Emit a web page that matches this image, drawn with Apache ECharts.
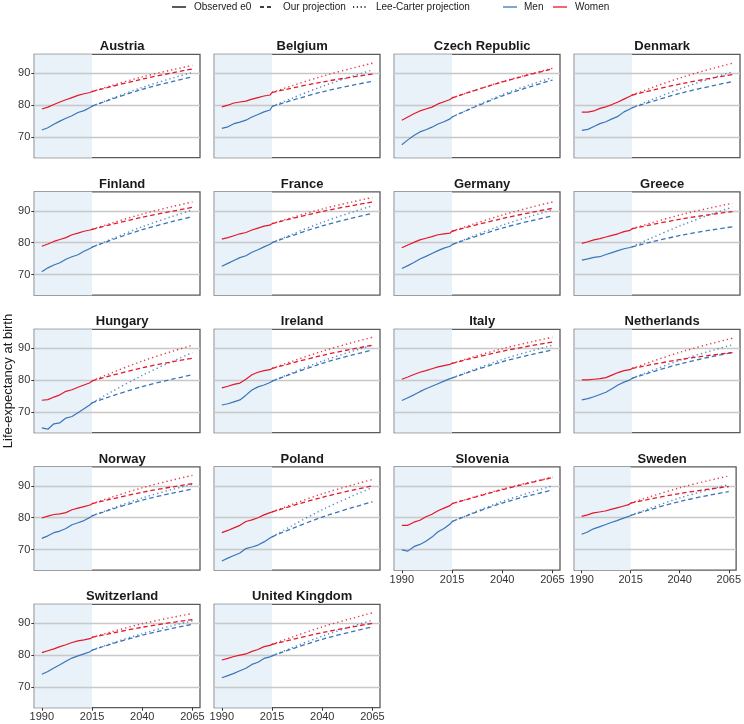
<!DOCTYPE html>
<html>
<head>
<meta charset="utf-8">
<script src="https://cdn.jsdelivr.net/npm/echarts@6/dist/echarts.min.js"></script>
<style>
html,body{margin:0;padding:0;background:#fff;}
#chart{width:744px;height:724px;}
</style>
</head>
<body>
<div id="chart"></div>
<script>
// ---------- DATA ----------
const countries = ["Austria","Belgium","Czech Republic","Denmark","Finland","France","Germany","Greece",
  "Hungary","Ireland","Italy","Netherlands","Norway","Poland","Slovenia","Sweden","Switzerland","United Kingdom"];
const obsYears = [1990,1993,1996,1999,2002,2005,2008,2011,2014,2015];
const projYears = [2015,2040,2065];
const xTicks = [1990,2015,2040,2065];
const yTicks = [70,80,90];

const menObs = [
  [72.2,72.9,74.0,75.0,75.9,76.7,77.7,78.3,79.3,79.7],
  [72.7,73.2,74.2,74.7,75.3,76.3,77.1,77.9,78.5,79.6],
  [67.6,69.1,70.5,71.6,72.3,73.1,74.1,74.8,75.7,76.3],
  [72.1,72.4,73.3,74.2,74.8,75.7,76.5,77.9,78.8,79.2],
  [70.9,72.1,73.0,73.7,74.8,75.6,76.2,77.3,78.2,78.6],
  [72.6,73.5,74.4,75.3,75.9,77.0,77.8,78.7,79.5,80.0],
  [71.9,72.8,73.8,74.9,75.7,76.6,77.5,78.3,78.9,79.4],
  [74.5,74.9,75.4,75.6,76.3,76.9,77.5,78.1,78.5,78.7],
  [65.0,64.6,66.3,66.6,68.1,68.6,69.8,71.0,72.3,72.9],
  [72.2,72.6,73.2,73.8,75.3,76.9,77.9,78.5,79.3,79.7],
  [73.6,74.5,75.4,76.4,77.3,78.1,78.9,79.7,80.5,80.7],
  [73.8,74.2,74.8,75.5,76.2,77.3,78.5,79.4,80.1,80.6],
  [73.5,74.3,75.3,75.8,76.6,77.8,78.4,79.1,80.1,80.6],
  [66.4,67.3,68.1,68.9,70.3,70.8,71.4,72.4,73.6,74.0],
  [69.9,69.5,70.9,71.6,72.6,73.9,75.6,76.6,78.0,78.8],
  [74.8,75.5,76.5,77.1,77.8,78.5,79.1,79.8,80.4,80.7],
  [74.0,74.9,76.0,77.0,78.1,79.1,79.8,80.4,81.1,81.6],
  [72.9,73.6,74.3,75.1,75.9,77.1,77.8,79.0,79.5,79.8]
];
const womenObs = [
  [78.8,79.4,80.2,81.0,81.7,82.4,83.1,83.6,84.0,84.3],
  [79.5,80.0,80.7,81.0,81.3,81.9,82.4,82.9,83.2,84.0],
  [75.3,76.3,77.3,78.2,78.8,79.4,80.4,81.1,81.8,82.3],
  [77.8,77.8,78.2,79.0,79.5,80.2,81.0,81.9,82.8,83.2],
  [78.9,79.6,80.4,81.0,81.6,82.5,83.0,83.6,84.0,84.2],
  [81.1,81.6,82.2,82.8,83.2,84.0,84.6,85.2,85.5,86.0],
  [78.4,79.3,80.1,80.9,81.4,81.9,82.5,82.8,83.0,83.6],
  [79.8,80.3,80.9,81.3,81.8,82.3,82.8,83.5,83.9,84.4],
  [73.7,73.9,74.7,75.4,76.5,77.0,77.8,78.5,79.2,79.8],
  [77.6,78.1,78.7,79.1,80.3,81.7,82.5,83.0,83.3,83.7],
  [80.3,81.0,81.8,82.5,83.0,83.6,84.2,84.6,85.0,85.3],
  [80.1,80.1,80.3,80.5,80.8,81.6,82.4,83.0,83.3,83.7],
  [79.9,80.5,81.0,81.2,81.6,82.5,83.0,83.5,84.0,84.4],
  [75.3,76.0,76.8,77.6,78.8,79.3,80.0,80.9,81.6,81.8],
  [77.6,77.6,78.6,79.2,80.3,81.1,82.2,83.0,83.8,84.4],
  [80.4,80.9,81.5,81.8,82.1,82.6,83.1,83.6,84.1,84.6],
  [80.8,81.4,82.0,82.7,83.3,84.0,84.5,84.8,85.2,85.6],
  [78.5,79.0,79.6,80.0,80.4,81.2,81.8,82.7,83.1,83.4]
];
const menOur = [
  [79.7,85.0,88.9],[79.6,84.2,87.5],[76.3,82.9,87.9],[79.2,83.9,87.4],
  [78.6,84.1,88.2],[80.0,85.3,89.2],[79.4,84.6,88.4],[78.7,82.4,85.0],
  [72.9,78.0,81.7],[79.7,85.3,89.5],[80.7,85.8,89.5],[80.6,85.3,88.7],
  [80.6,85.5,89.0],[74.0,80.2,85.0],[78.8,84.6,88.7],[80.7,85.1,88.2],
  [81.6,86.3,89.7],[79.8,85.0,88.9]
];
const womenOur = [
  [84.3,88.2,91.4],[84.0,87.3,89.8],[82.3,87.3,91.4],[83.2,86.8,89.6],
  [84.2,88.0,91.1],[86.0,89.8,92.8],[83.6,87.6,90.8],[84.4,87.5,89.8],
  [79.8,83.9,86.9],[83.7,87.8,91.0],[85.3,89.1,92.0],[83.7,86.6,88.7],
  [84.4,88.0,90.7],[81.8,86.4,90.0],[84.4,88.8,92.6],[84.6,87.6,89.8],
  [85.6,88.8,91.2],[83.4,87.1,90.0]
];
const menLC = [
  [79.7,85.6,90.3],[79.6,85.9,91.1],[76.3,83.3,88.7],[79.2,85.4,90.5],
  [78.6,85.0,90.3],[80.0,86.4,91.6],[79.4,85.5,90.3],[78.7,85.6,91.2],
  [72.9,81.5,88.7],[79.7,86.0,91.0],[80.7,86.5,91.0],[80.6,86.5,91.1],
  [80.6,86.2,90.5],[74.0,82.5,89.5],[78.8,85.1,90.0],[80.7,86.2,90.4],
  [81.6,86.8,90.8],[79.8,86.0,91.0]
];
const womenLC = [
  [84.3,88.9,92.5],[84.0,89.1,93.2],[82.3,87.4,91.6],[83.2,88.8,93.2],
  [84.2,89.0,92.8],[86.0,90.6,94.2],[83.6,88.7,92.8],[84.4,88.9,92.4],
  [79.8,86.0,91.0],[83.7,89.1,93.5],[85.3,89.9,93.5],[83.7,89.0,93.2],
  [84.4,89.4,93.3],[81.8,87.5,92.0],[84.4,89.0,92.7],[84.6,89.4,93.1],
  [85.6,89.9,93.1],[83.4,88.9,93.3]
];
const shadeEnd = 2015;

// ---------- LAYOUT ----------
const FONT = 'Liberation Sans, Arial, sans-serif';
const MEN = '#3a75b9', WOMEN = '#e4172b';
const G = {left0:34.3, dx:180, w:165.7, top0:54.3, dy:137.5, h:103.4};
const xMin = 1986.25, xMax = 2068.75, yMin = 63.5, yMax = 96;
const bottomPanels = [14,15,16,17];

const pair = (xs, ys) => xs.map((x,i)=>[x, ys[i]]);

const grids=[], xAxes=[], yAxes=[], series=[], titles=[];
countries.forEach((name,i)=>{
  const r = Math.floor(i/4), c = i%4;
  const left = G.left0 + G.dx*c, top = G.top0 + G.dy*r;
  grids.push({left:left, top:top, width:G.w, height:G.h, show:true,
    backgroundColor:'#fff', borderColor:'#5a5a5a', borderWidth:1.3, containLabel:false});
  titles.push({text:name, left:left+G.w/2, top:top-19, textAlign:'center',
    textStyle:{fontFamily:FONT, fontWeight:'bold', fontSize:13, color:'#1a1a1a'}});
  const showX = bottomPanels.includes(i);
  xAxes.push({type:'value', gridIndex:i, min:xMin, max:xMax,
    axisLine:{show:false}, splitLine:{show:false},
    axisTick:{show:showX, length:3, lineStyle:{color:'#333', width:1}, customValues:xTicks},
    axisLabel:{show:showX, customValues:xTicks, margin:4, fontSize:11, color:'#333',
      fontFamily:FONT, formatter:(v)=>String(v)}});
  const showY = c===0;
  yAxes.push({type:'value', gridIndex:i, min:yMin, max:yMax,
    axisLine:{show:false}, splitLine:{show:false},
    axisTick:{show:showY, length:3, lineStyle:{color:'#333', width:1}, customValues:yTicks},
    axisLabel:{show:showY, customValues:yTicks, margin:4, fontSize:11, color:'#333',
      fontFamily:FONT, formatter:(v)=>String(v)}});
  // shading
  series.push({type:'line', xAxisIndex:i, yAxisIndex:i, data:[], silent:true, z:1,
    markArea:{silent:true, itemStyle:{color:'#e9f2f9'},
      data:[[{xAxis:xMin},{xAxis:shadeEnd}]]}});
  // gridlines
  series.push({type:'line', xAxisIndex:i, yAxisIndex:i, data:[], silent:true, z:2,
    markLine:{silent:true, symbol:['none','none'], label:{show:false},
      lineStyle:{color:'#c8c8c8', type:'solid', width:1.3},
      data: yTicks.map(v=>({yAxis:v}))}});
  const mk = (data, color, type, width, opacity) => ({
    type:'line', xAxisIndex:i, yAxisIndex:i, data:data, showSymbol:false, symbol:'none',
    silent:true, z:5, smooth: type==='solid' ? false : 0.4,
    lineStyle:{color:color, type:type, width:width, opacity:opacity}});
  series.push(mk(pair(projYears, menLC[i]), MEN, [1.3,3], 1.4, 0.85));
  series.push(mk(pair(projYears, womenLC[i]), WOMEN, [1.3,3], 1.4, 0.85));
  series.push(mk(pair(projYears, menOur[i]), MEN, [4.5,3], 1.3, 1));
  series.push(mk(pair(projYears, womenOur[i]), WOMEN, [4.5,3], 1.3, 1));
  series.push(mk(pair(obsYears, menObs[i]), MEN, 'solid', 1.2, 1));
  series.push(mk(pair(obsYears, womenObs[i]), WOMEN, 'solid', 1.2, 1));
});

// legend (drawn as graphics with real text)
const ly = 7;
const txtStyle = {fontFamily:FONT, fontSize:10, fill:'#1a1a1a'};
const legendItems = [
  {x1:172, x2:186, color:'#000', dash:null, label:'Observed e0', tx:194},
  {x1:260, x2:274, color:'#000', dash:[4,3], label:'Our projection', tx:283},
  {x1:353, x2:368, color:'#000', dash:[1.2,2.6], label:'Lee-Carter projection', tx:376},
  {x1:503, x2:517, color:MEN, dash:null, label:'Men', tx:524},
  {x1:553, x2:567, color:WOMEN, dash:null, label:'Women', tx:575}
];
const graphics = [];
legendItems.forEach(it=>{
  graphics.push({type:'line', shape:{x1:it.x1, y1:ly, x2:it.x2, y2:ly},
    style:{stroke:it.color, lineWidth:1.3, lineDash:it.dash}});
  graphics.push({type:'text', x:it.tx, y:ly,
    style:Object.assign({text:it.label, textVerticalAlign:'middle', verticalAlign:'middle'}, txtStyle)});
});
graphics.push({type:'text', x:8, y:381, rotation:Math.PI/2,
  style:{text:'Life-expectancy at birth', fontFamily:FONT, fontSize:13,
    fill:'#1a1a1a', align:'center', verticalAlign:'middle', textAlign:'center', textVerticalAlign:'middle'}});

const chart = echarts.init(document.getElementById('chart'), null, {renderer:'canvas'});
chart.setOption({
  animation:false,
  backgroundColor:'#fff',
  title:titles,
  grid:grids,
  xAxis:xAxes,
  yAxis:yAxes,
  series:series,
  graphic:graphics
});
</script>
</body>
</html>
